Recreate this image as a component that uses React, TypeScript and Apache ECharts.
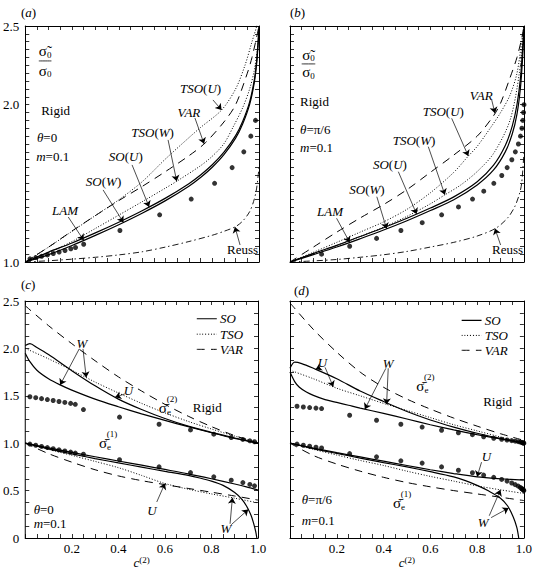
import React, { useEffect, useRef } from "react";
import * as echarts from "echarts";

const SERIF = "Liberation Serif";
const INK = "#000";

// common abscissa used by the gentler curves
const X10 = [0, 0.1, 0.2, 0.3, 0.4, 0.5, 0.6, 0.7, 0.8, 0.9, 1.0];

// ---------- (a) theta = 0 : normalised effective flow stress ----------
const A_SO_X = [0, 0.1, 0.2, 0.3, 0.4, 0.5, 0.6, 0.7, 0.75, 0.8, 0.85, 0.9, 0.93, 0.96, 0.98, 0.99, 0.997, 1.0];
const A_SO_U = [1.0, 1.063, 1.121, 1.185, 1.253, 1.326, 1.406, 1.498, 1.553, 1.618, 1.698, 1.803, 1.893, 2.018, 2.158, 2.278, 2.418, 2.5];
const A_SO_W = [1.0, 1.047, 1.105, 1.169, 1.237, 1.31, 1.39, 1.482, 1.537, 1.602, 1.682, 1.787, 1.877, 2.002, 2.142, 2.262, 2.402, 2.49];
const A_TSO_W_X = [0, 0.1, 0.2, 0.3, 0.4, 0.5, 0.6, 0.65, 0.75, 0.8, 0.85, 0.89, 0.93, 0.96, 0.98, 0.995, 1.0];
const A_TSO_W = [1.0, 1.06, 1.13, 1.213, 1.298, 1.383, 1.47, 1.515, 1.612, 1.672, 1.752, 1.86, 1.98, 2.1, 2.22, 2.38, 2.5];
const A_TSO_U_X = [0, 0.1, 0.2, 0.3, 0.4, 0.5, 0.6, 0.7, 0.75, 0.84, 0.9, 0.94, 0.97, 0.99, 1.0];
const A_TSO_U = [1.0, 1.095, 1.195, 1.295, 1.395, 1.51, 1.655, 1.79, 1.855, 1.966, 2.1, 2.25, 2.4, 2.5, 2.6];
const A_VAR_X = [0, 0.1, 0.2, 0.3, 0.4, 0.5, 0.6, 0.7, 0.77, 0.85, 0.9, 0.95, 0.97, 0.99, 1.0];
const A_VAR = [1.0, 1.095, 1.197, 1.295, 1.39, 1.48, 1.575, 1.675, 1.757, 1.89, 2.0, 2.2, 2.3, 2.43, 2.5];
const A_REUSS_X = [0, 0.1, 0.2, 0.3, 0.4, 0.5, 0.6, 0.7, 0.8, 0.85, 0.9, 0.93, 0.96, 0.98, 0.99, 1.0];
const A_REUSS = [1.0, 1.008, 1.018, 1.03, 1.045, 1.065, 1.095, 1.13, 1.17, 1.195, 1.225, 1.26, 1.32, 1.4, 1.47, 1.6];
// laminate concentrations for theta = 0 (shared by panels a and c)
const THETA0_LAM_X = [0.02, 0.045, 0.07, 0.095, 0.12, 0.145, 0.17, 0.195, 0.215, 0.25, 0.405, 0.575, 0.71, 0.81, 0.885, 0.935, 0.965, 0.985];
const A_LAM = [1.02, 1.028, 1.036, 1.045, 1.054, 1.063, 1.073, 1.084, 1.092, 1.113, 1.2, 1.3, 1.4, 1.5, 1.6, 1.7, 1.8, 1.9];

// ---------- (b) theta = pi/6 ----------
const B_SO_X = [0, 0.1, 0.2, 0.3, 0.4, 0.5, 0.6, 0.7, 0.8, 0.87, 0.92, 0.95, 0.97, 0.985, 0.995, 1.0];
const B_SO_U = [1.0, 1.055, 1.106, 1.162, 1.218, 1.278, 1.343, 1.414, 1.51, 1.615, 1.74, 1.865, 2.0, 2.17, 2.38, 2.5];
const B_SO_W = [1.0, 1.047, 1.095, 1.148, 1.203, 1.262, 1.327, 1.396, 1.49, 1.585, 1.7, 1.815, 1.94, 2.11, 2.32, 2.48];
const B_TSO_W_X = [0, 0.1, 0.2, 0.3, 0.4, 0.5, 0.6, 0.66, 0.73, 0.8, 0.87, 0.94, 0.98, 1.0];
const B_TSO_W = [1.0, 1.052, 1.105, 1.162, 1.222, 1.29, 1.37, 1.425, 1.49, 1.575, 1.69, 1.9, 2.2, 2.5];
const B_TSO_U_X = [0, 0.1, 0.2, 0.3, 0.4, 0.5, 0.6, 0.7, 0.76, 0.8, 0.86, 0.9, 0.94, 0.97, 0.99, 1.0];
const B_TSO_U = [1.0, 1.062, 1.125, 1.19, 1.255, 1.335, 1.44, 1.57, 1.67, 1.735, 1.86, 1.95, 2.06, 2.2, 2.4, 2.5];
const B_VAR_X = [0, 0.1, 0.2, 0.3, 0.4, 0.5, 0.6, 0.7, 0.8, 0.87, 0.9, 0.94, 0.97, 0.99, 1.0];
const B_VAR = [1.0, 1.095, 1.19, 1.28, 1.365, 1.46, 1.57, 1.68, 1.8, 1.93, 2.01, 2.17, 2.3, 2.42, 2.5];
const B_REUSS_X = [0, 0.1, 0.2, 0.3, 0.4, 0.5, 0.6, 0.7, 0.8, 0.88, 0.93, 0.96, 0.98, 0.99, 1.0];
const B_REUSS = [1.0, 1.007, 1.016, 1.03, 1.046, 1.067, 1.095, 1.125, 1.165, 1.215, 1.28, 1.35, 1.43, 1.5, 1.7];
const B_LAM_X = [0.135, 0.255, 0.37, 0.474, 0.565, 0.648, 0.72, 0.78, 0.828, 0.871, 0.905, 0.928, 0.948, 0.963, 0.976, 0.985, 0.991, 0.995, 0.998, 1.0];
const B_LAM = [1.05, 1.1, 1.15, 1.2, 1.25, 1.3, 1.35, 1.4, 1.45, 1.5, 1.55, 1.6, 1.65, 1.7, 1.75, 1.8, 1.85, 1.9, 1.95, 2.0];

// ---------- (c) theta = 0 : phase-average stresses ----------
const C_UP_SO_U_X = [0, 0.02, 0.05, 0.1, 0.2, 0.3, 0.4, 0.5, 0.6, 0.7, 0.8, 0.9, 1.0];
const C_UP_SO_U = [2.03, 2.05, 2.01, 1.935, 1.765, 1.605, 1.465, 1.355, 1.26, 1.18, 1.115, 1.055, 1.0];
const C_UP_SO_W_X = [0, 0.02, 0.05, 0.1, 0.15, 0.2, 0.3, 0.4, 0.5, 0.6, 0.7, 0.8, 0.9, 1.0];
const C_UP_SO_W = [1.95, 1.86, 1.77, 1.68, 1.615, 1.56, 1.465, 1.385, 1.31, 1.24, 1.175, 1.11, 1.05, 1.0];
const C_UP_TSO = [2.0, 1.89, 1.77, 1.645, 1.53, 1.42, 1.32, 1.23, 1.15, 1.075, 1.01];
const C_UP_VAR = [2.45, 2.24, 2.05, 1.87, 1.7, 1.55, 1.41, 1.285, 1.175, 1.08, 1.0];
const C_LO_SO_U_X = [0, 0.1, 0.2, 0.3, 0.4, 0.5, 0.6, 0.7, 0.8, 0.9, 0.95, 1.0];
const C_LO_SO_U = [1.0, 0.95, 0.903, 0.857, 0.812, 0.768, 0.723, 0.677, 0.625, 0.57, 0.54, 0.505];
const C_LO_SO_W_X = [0, 0.1, 0.2, 0.3, 0.4, 0.5, 0.6, 0.7, 0.75, 0.8, 0.85, 0.9, 0.93, 0.95, 0.97, 0.98, 0.99, 0.995];
const C_LO_SO_W = [1.0, 0.94, 0.887, 0.838, 0.792, 0.748, 0.703, 0.66, 0.633, 0.6, 0.555, 0.48, 0.41, 0.34, 0.24, 0.165, 0.07, 0.0];
const C_LO_TSO = [1.0, 0.935, 0.872, 0.808, 0.742, 0.66, 0.575, 0.515, 0.465, 0.42, 0.37];
const C_LO_VAR = [1.0, 0.89, 0.8, 0.72, 0.655, 0.605, 0.563, 0.523, 0.483, 0.443, 0.4];
const C_LAM_UP = [1.49, 1.48, 1.47, 1.46, 1.45, 1.44, 1.43, 1.42, 1.41, 1.355, 1.275, 1.2, 1.14, 1.095, 1.06, 1.04, 1.025, 1.015];
const C_LAM_LO = [0.99, 0.978, 0.966, 0.954, 0.942, 0.93, 0.918, 0.906, 0.896, 0.884, 0.825, 0.75, 0.69, 0.645, 0.61, 0.585, 0.565, 0.55];

// ---------- (d) theta = pi/6 : phase-average stresses ----------
const D_UP_SO_U_X = [0, 0.02, 0.05, 0.1, 0.2, 0.3, 0.4, 0.5, 0.6, 0.7, 0.8, 0.9, 1.0];
const D_UP_SO_U = [1.79, 1.855, 1.84, 1.79, 1.68, 1.55, 1.44, 1.335, 1.245, 1.17, 1.105, 1.05, 1.0];
const D_UP_SO_W_X = [0, 0.02, 0.04, 0.07, 0.1, 0.15, 0.2, 0.25, 0.3, 0.4, 0.5, 0.6, 0.7, 0.8, 0.9, 1.0];
const D_UP_SO_W = [1.75, 1.65, 1.59, 1.54, 1.505, 1.46, 1.43, 1.4, 1.37, 1.315, 1.255, 1.195, 1.14, 1.09, 1.045, 1.0];
const D_UP_TSO = [1.77, 1.68, 1.58, 1.5, 1.42, 1.345, 1.27, 1.195, 1.13, 1.065, 1.0];
const D_UP_VAR = [2.48, 2.2, 1.96, 1.75, 1.59, 1.465, 1.36, 1.265, 1.18, 1.1, 1.03];
const D_LO_SO_U = [1.0, 0.948, 0.9, 0.855, 0.81, 0.765, 0.72, 0.68, 0.645, 0.625, 0.61];
const D_LO_SO_W_X = [0, 0.1, 0.2, 0.3, 0.4, 0.5, 0.6, 0.7, 0.75, 0.8, 0.85, 0.9, 0.93, 0.955, 0.97, 0.978];
const D_LO_SO_W = [1.0, 0.942, 0.892, 0.843, 0.795, 0.75, 0.7, 0.645, 0.605, 0.555, 0.495, 0.42, 0.34, 0.22, 0.11, 0.0];
const D_LO_TSO = [1.0, 0.935, 0.875, 0.818, 0.765, 0.705, 0.65, 0.6, 0.55, 0.508, 0.47];
const D_LO_VAR = [1.0, 0.87, 0.78, 0.705, 0.64, 0.585, 0.54, 0.5, 0.465, 0.43, 0.395];
const D_LAM_X = [0.03, 0.057, 0.084, 0.111, 0.135, 0.255, 0.37, 0.474, 0.565, 0.648, 0.72, 0.78, 0.828, 0.871, 0.905, 0.928, 0.948, 0.963, 0.976, 0.985, 0.991, 0.995, 0.998, 1.0];
const D_LAM_UP = [1.39, 1.382, 1.376, 1.37, 1.365, 1.295, 1.242, 1.2, 1.17, 1.137, 1.11, 1.09, 1.068, 1.052, 1.042, 1.034, 1.027, 1.021, 1.016, 1.012, 1.008, 1.005, 1.002, 1.0];
const D_LAM_LO = [0.99, 0.978, 0.968, 0.958, 0.95, 0.89, 0.856, 0.814, 0.79, 0.75, 0.715, 0.688, 0.663, 0.64, 0.618, 0.6, 0.58, 0.563, 0.547, 0.533, 0.522, 0.513, 0.506, 0.5];

// ---------- helpers ----------
type Pt = [number, number];
const pts = (xs: number[], ys: number[]): Pt[] => xs.map((x, i) => [x, ys[i]] as Pt);

// point on a tabulated curve (linear between samples)
function on(xs: number[], ys: number[], x: number): Pt {
  for (let i = 1; i < xs.length; i++) {
    if (x <= xs[i]) {
      const t = (x - xs[i - 1]) / (xs[i] - xs[i - 1]);
      return [x, ys[i - 1] + t * (ys[i] - ys[i - 1])];
    }
  }
  return [x, ys[ys.length - 1]];
}

const SOLID = { width: 1.2, type: "solid" };
const DOTTED = { width: 1, type: [1, 1.8] };
const DASHED = { width: 1, type: [8, 6] };
const DASHDOT = { width: 0.9, type: [6, 3, 1.5, 3] };

// rich styles for ECharts labels (axis name, panel tags)
const ltok = (extra: any) => ({ fontFamily: SERIF, fontWeight: "normal", color: INK, ...extra });
const RICH: any = {
  r: ltok({ fontSize: 13, lineHeight: 14 }),
  i: ltok({ fontSize: 13, fontStyle: "italic", lineHeight: 14 }),
  sup: ltok({ fontSize: 9, lineHeight: 8, verticalAlign: "top" }),
};

// rich styles for graphic text (zrender style keys)
const gtok = (extra: any) => ({ fontFamily: SERIF, fontWeight: "normal", fill: INK, ...extra });
const GRICH: any = {
  r: gtok({ fontSize: 13, lineHeight: 14 }),
  i: gtok({ fontSize: 13, fontStyle: "italic", lineHeight: 14 }),
  s: gtok({ fontSize: 15, lineHeight: 16 }),
  sub: gtok({ fontSize: 9, lineHeight: 8, verticalAlign: "bottom" }),
  sm: gtok({ fontSize: 9, lineHeight: 10 }),
};

function curve(g: number, data: Pt[], style: any, z = 3) {
  return {
    type: "line",
    xAxisIndex: 2 * g,
    yAxisIndex: 2 * g,
    data,
    symbol: "none",
    smooth: 0.3,
    silent: true,
    z,
    lineStyle: { color: INK, ...style },
  };
}

function dots(g: number, data: Pt[]) {
  return {
    type: "scatter",
    xAxisIndex: 2 * g,
    yAxisIndex: 2 * g,
    data,
    symbol: "circle",
    symbolSize: 5,
    silent: true,
    z: 4,
    itemStyle: { color: INK },
  };
}

function arrows(g: number, list: [Pt, Pt][]) {
  return {
    type: "lines",
    coordinateSystem: "cartesian2d",
    xAxisIndex: 2 * g,
    yAxisIndex: 2 * g,
    silent: true,
    z: 5,
    symbol: ["none", "arrow"],
    symbolSize: 6,
    lineStyle: { color: INK, width: 0.7, opacity: 1, curveness: 0 },
    itemStyle: { color: INK },
    data: list.map(([a, b]) => ({ coords: [a, b] })),
  };
}

type Note = { at: Pt; text: string; left?: boolean; off?: [number, number] };

const NOTES: Note[][] = [
  // (a)
  [
    { at: [0.085, 2.338], text: "{s|σ̃}{sub|0}" },
    { at: [0.085, 2.214], text: "{s|σ}{sub|0}" },
    { at: [0.068, 1.96], text: "{r|Rigid}", left: true },
    { at: [0.05, 1.79], text: "{i|θ}{r|=0}", left: true },
    { at: [0.047, 1.67], text: "{i|m}{r|=0.1}", left: true },
    { at: [0.75, 2.105], text: "{i|TSO}{r|(}{i|U}{r|)}" },
    { at: [0.7, 1.95], text: "{i|VAR}" },
    { at: [0.545, 1.82], text: "{i|TSO}{r|(}{i|W}{r|)}" },
    { at: [0.43, 1.67], text: "{i|SO}{r|(}{i|U}{r|)}" },
    { at: [0.335, 1.51], text: "{i|SO}{r|(}{i|W}{r|)}" },
    { at: [0.17, 1.33], text: "{i|LAM}" },
    { at: [0.93, 1.08], text: "{r|Reuss}" },
  ],
  // (b)
  [
    { at: [0.079, 2.316], text: "{s|σ̃}{sub|0}" },
    { at: [0.079, 2.205], text: "{s|σ}{sub|0}" },
    { at: [0.043, 2.02], text: "{r|Rigid}", left: true },
    { at: [0.043, 1.84], text: "{i|θ}{r|=π/6}", left: true },
    { at: [0.043, 1.73], text: "{i|m}{r|=0.1}", left: true },
    { at: [0.817, 2.06], text: "{i|VAR}" },
    { at: [0.655, 1.955], text: "{i|TSO}{r|(}{i|U}{r|)}" },
    { at: [0.53, 1.77], text: "{i|TSO}{r|(}{i|W}{r|)}" },
    { at: [0.427, 1.62], text: "{i|SO}{r|(}{i|U}{r|)}" },
    { at: [0.329, 1.46], text: "{i|SO}{r|(}{i|W}{r|)}" },
    { at: [0.171, 1.32], text: "{i|LAM}" },
    { at: [0.93, 1.08], text: "{r|Reuss}" },
  ],
  // (c)
  [
    { at: [0.837, 2.313], text: "{i|SO}", left: true },
    { at: [0.837, 2.15], text: "{i|TSO}", left: true },
    { at: [0.837, 1.99], text: "{i|VAR}", left: true },
    { at: [0.243, 2.05], text: "{i|W}" },
    { at: [0.443, 1.56], text: "{i|U}" },
    { at: [0.6, 1.37], text: "{s|σ̄}{sub|e}" },
    { at: [0.6, 1.37], text: "{sm|(2)}", off: [7, -9] },
    { at: [0.72, 1.38], text: "{r|Rigid}", left: true },
    { at: [0.343, 1.0], text: "{s|σ̄}{sub|e}" },
    { at: [0.343, 1.0], text: "{sm|(1)}", off: [7, -9] },
    { at: [0.544, 0.295], text: "{i|U}" },
    { at: [0.862, 0.105], text: "{i|W}" },
    { at: [0.036, 0.305], text: "{i|θ}{r|=0}", left: true },
    { at: [0.036, 0.15], text: "{i|m}{r|=0.1}", left: true },
  ],
  // (d)
  [
    { at: [0.833, 2.295], text: "{i|SO}", left: true },
    { at: [0.833, 2.137], text: "{i|TSO}", left: true },
    { at: [0.833, 1.98], text: "{i|VAR}", left: true },
    { at: [0.139, 1.85], text: "{i|U}" },
    { at: [0.42, 1.84], text: "{i|W}" },
    { at: [0.566, 1.6], text: "{s|σ̄}{sub|e}" },
    { at: [0.566, 1.6], text: "{sm|(2)}", off: [7, -9] },
    { at: [0.826, 1.435], text: "{r|Rigid}", left: true },
    { at: [0.84, 0.86], text: "{i|U}" },
    { at: [0.466, 0.368], text: "{s|σ̄}{sub|e}" },
    { at: [0.466, 0.368], text: "{sm|(1)}", off: [7, -9] },
    { at: [0.826, 0.163], text: "{i|W}" },
    { at: [0.05, 0.41], text: "{i|θ}{r|=π/6}", left: true },
    { at: [0.05, 0.18], text: "{i|m}{r|=0.1}", left: true },
  ],
];

const near = (v: number, m: number) => Math.abs(v / m - Math.round(v / m)) < 1e-6;
const fmtX = (v: number) => (v > 1e-9 && near(v, 0.2) ? v.toFixed(1) : "");
const fmtYTop = (v: number) => ([1, 2, 2.5].some((t) => Math.abs(v - t) < 1e-6) ? v.toFixed(1) : "");
const fmtYBot = (v: number) => (near(v, 0.5) ? (Math.abs(v) < 1e-9 ? "0" : v.toFixed(1)) : "");

const GRIDS = [
  { left: 25, top: 26, width: 234, height: 236 },
  { left: 290, top: 26, width: 234, height: 236 },
  { left: 25, top: 301, width: 233, height: 237 },
  { left: 290, top: 301, width: 234, height: 237 },
];

function axes(g: number) {
  const upper = g < 2;
  const common = {
    gridIndex: g,
    type: "value",
    axisLine: { show: true, onZero: false, lineStyle: { color: INK, width: 1 } },
    axisTick: { show: true, inside: true, length: 4, lineStyle: { color: INK, width: 0.8 } },
    splitLine: { show: false },
  };
  const lab = { color: INK, fontFamily: SERIF, fontSize: 13 };
  const xB: any = {
    ...common,
    position: "bottom",
    min: 0,
    max: 1,
    interval: 0.05,
    axisLabel: { show: !upper, formatter: fmtX, margin: 4, ...lab },
  };
  if (!upper) {
    xB.name = "{i|c}{sup|(2)}";
    xB.nameLocation = "middle";
    xB.nameGap = 16;
    xB.nameTextStyle = { ...lab, fontWeight: "normal", rich: RICH };
  }
  const xT = { ...common, position: "top", min: 0, max: 1, interval: 0.05, axisLabel: { show: false } };
  const yRange = upper ? { min: 1, max: 2.5, interval: 0.05 } : { min: 0, max: 2.5, interval: 0.125 };
  const yL = {
    ...common,
    position: "left",
    ...yRange,
    axisLabel: { show: g === 0 || g === 2, formatter: upper ? fmtYTop : fmtYBot, margin: 6, ...lab },
  };
  const yR = { ...common, position: "right", ...yRange, axisLabel: { show: false } };
  return { x: [xB, xT], y: [yL, yR] };
}

function buildOption() {
  const series: any[] = [];

  // ----- (a) -----
  series.push(
    curve(0, pts(A_SO_X, A_SO_U), SOLID),
    curve(0, pts(A_SO_X, A_SO_W), SOLID),
    curve(0, pts(A_TSO_W_X, A_TSO_W), DOTTED),
    curve(0, pts(A_TSO_U_X, A_TSO_U), DOTTED),
    curve(0, pts(A_VAR_X, A_VAR), DASHED),
    curve(0, pts(A_REUSS_X, A_REUSS), DASHDOT),
    dots(0, pts(THETA0_LAM_X, A_LAM)),
    curve(0, [[0.058, 2.278], [0.112, 2.278]], { width: 0.8 }),
    arrows(0, [
      [[0.803, 2.03], on(A_TSO_U_X, A_TSO_U, 0.84)],
      [[0.726, 1.915], on(A_VAR_X, A_VAR, 0.765)],
      [[0.611, 1.776], on(A_TSO_W_X, A_TSO_W, 0.648)],
      [[0.457, 1.617], on(A_SO_X, A_SO_U, 0.53)],
      [[0.333, 1.458], on(A_SO_X, A_SO_W, 0.42)],
      [[0.184, 1.286], [THETA0_LAM_X[9], A_LAM[9] + 0.025]],
      [[0.919, 1.108], on(A_REUSS_X, A_REUSS, 0.897)],
    ])
  );

  // ----- (b) -----
  series.push(
    curve(1, pts(B_SO_X, B_SO_U), SOLID),
    curve(1, pts(B_SO_X, B_SO_W), SOLID),
    curve(1, pts(B_TSO_W_X, B_TSO_W), DOTTED),
    curve(1, pts(B_TSO_U_X, B_TSO_U), DOTTED),
    curve(1, pts(B_VAR_X, B_VAR), DASHED),
    curve(1, pts(B_REUSS_X, B_REUSS), DASHDOT),
    dots(1, pts(B_LAM_X, B_LAM)),
    curve(1, [[0.05, 2.259], [0.108, 2.259]], { width: 0.8 }),
    arrows(1, [
      [[0.862, 2.03], on(B_VAR_X, B_VAR, 0.876)],
      [[0.691, 1.913], on(B_TSO_U_X, B_TSO_U, 0.762)],
      [[0.591, 1.733], on(B_TSO_W_X, B_TSO_W, 0.662)],
      [[0.463, 1.574], on(B_SO_X, B_SO_U, 0.541)],
      [[0.371, 1.415], on(B_SO_X, B_SO_W, 0.413)],
      [[0.199, 1.278], [B_LAM_X[1], B_LAM[1] + 0.025]],
      [[0.9, 1.108], on(B_REUSS_X, B_REUSS, 0.876)],
    ])
  );

  // ----- (c) -----
  series.push(
    curve(2, pts(C_UP_SO_U_X, C_UP_SO_U), SOLID),
    curve(2, pts(C_UP_SO_W_X, C_UP_SO_W), SOLID),
    curve(2, pts(X10, C_UP_TSO), DOTTED),
    curve(2, pts(X10, C_UP_VAR), DASHED),
    curve(2, pts(C_LO_SO_U_X, C_LO_SO_U), SOLID),
    curve(2, pts(C_LO_SO_W_X, C_LO_SO_W), SOLID),
    curve(2, pts(X10, C_LO_TSO), DOTTED),
    curve(2, pts(X10, C_LO_VAR), DASHED),
    dots(2, pts(THETA0_LAM_X, C_LAM_UP)),
    dots(2, pts(THETA0_LAM_X, C_LAM_LO)),
    curve(2, [[0.737, 2.313], [0.823, 2.313]], SOLID),
    curve(2, [[0.737, 2.15], [0.823, 2.15]], DOTTED),
    curve(2, [[0.737, 1.99], [0.823, 1.99]], DASHED),
    arrows(2, [
      [[0.232, 1.995], on(C_UP_SO_W_X, C_UP_SO_W, 0.15)],
      [[0.248, 1.995], on(X10, C_UP_TSO, 0.262)],
      [[0.428, 1.52], on(C_UP_SO_U_X, C_UP_SO_U, 0.386)],
      [[0.565, 0.38], on(X10, C_LO_TSO, 0.6)],
      [[0.88, 0.15], on(X10, C_LO_TSO, 0.89)],
      [[0.885, 0.14], on(C_LO_SO_W_X, C_LO_SO_W, 0.958)],
    ])
  );

  // ----- (d) -----
  series.push(
    curve(3, pts(D_UP_SO_U_X, D_UP_SO_U), SOLID),
    curve(3, pts(D_UP_SO_W_X, D_UP_SO_W), SOLID),
    curve(3, pts(X10, D_UP_TSO), DOTTED),
    curve(3, pts(X10, D_UP_VAR), DASHED),
    curve(3, pts(X10, D_LO_SO_U), SOLID),
    curve(3, pts(D_LO_SO_W_X, D_LO_SO_W), SOLID),
    curve(3, pts(X10, D_LO_TSO), DOTTED),
    curve(3, pts(X10, D_LO_VAR), DASHED),
    dots(3, pts(D_LAM_X, D_LAM_UP)),
    dots(3, pts(D_LAM_X, D_LAM_LO)),
    curve(3, [[0.734, 2.295], [0.819, 2.295]], SOLID),
    curve(3, [[0.734, 2.137], [0.819, 2.137]], DOTTED),
    curve(3, [[0.734, 1.98], [0.819, 1.98]], DASHED),
    arrows(3, [
      [[0.128, 1.8], on(D_UP_SO_U_X, D_UP_SO_U, 0.11)],
      [[0.15, 1.8], on(X10, D_UP_TSO, 0.185)],
      [[0.41, 1.79], on(D_UP_SO_W_X, D_UP_SO_W, 0.32)],
      [[0.42, 1.79], on(X10, D_UP_TSO, 0.413)],
      [[0.819, 0.8], on(X10, D_LO_SO_U, 0.8)],
      [[0.852, 0.235], on(X10, D_LO_TSO, 0.9)],
      [[0.86, 0.215], on(D_LO_SO_W_X, D_LO_SO_W, 0.935)],
    ])
  );

  const xAxis: any[] = [];
  const yAxis: any[] = [];
  for (let g = 0; g < 4; g++) {
    const a = axes(g);
    xAxis.push(...a.x);
    yAxis.push(...a.y);
  }

  const tag = (letter: string, left: number, top: number) => ({
    text: `{r|(}{i|${letter}}{r|)}`,
    left,
    top,
    padding: 0,
    textStyle: { fontWeight: "normal", fontFamily: SERIF, fontSize: 13, color: INK, rich: RICH },
  });

  return {
    animation: false,
    backgroundColor: "#fff",
    textStyle: { fontFamily: SERIF },
    title: [tag("a", 21, 5), tag("b", 290, 5), tag("c", 21, 277), tag("d", 294, 283)],
    grid: GRIDS.map((g) => ({ ...g, containLabel: false })),
    xAxis,
    yAxis,
    series,
  };
}

// annotation texts placed through each panel's own axes
function noteGraphics(chart: echarts.ECharts) {
  const out: any[] = [];
  NOTES.forEach((list, g) => {
    list.forEach((n) => {
      const p = chart.convertToPixel({ xAxisIndex: 2 * g, yAxisIndex: 2 * g } as any, n.at) as number[];
      if (!p) return;
      const off = n.off ?? [0, 0];
      const align = n.left ? "left" : "center";
      out.push({
        type: "text",
        x: p[0] + off[0],
        y: p[1] + off[1],
        z: 100,
        silent: true,
        style: {
          text: n.text,
          rich: GRICH,
          fill: INK,
          fontFamily: SERIF,
          fontSize: 13,
          align,
          textAlign: align,
          verticalAlign: "middle",
          textVerticalAlign: "middle",
        },
      });
    });
  });
  return out;
}

export default function App() {
  const ref = useRef<HTMLDivElement>(null);
  useEffect(() => {
    if (!ref.current) return;
    const chart = echarts.init(ref.current, null, { renderer: "svg" });
    chart.setOption(buildOption() as any);
    chart.setOption({ graphic: noteGraphics(chart) } as any);
    return () => chart.dispose();
  }, []);
  return (
    <div
      ref={ref}
      style={{ position: "absolute", left: 0, top: 0, width: 535, height: 571, background: "#fff" }}
    />
  );
}
